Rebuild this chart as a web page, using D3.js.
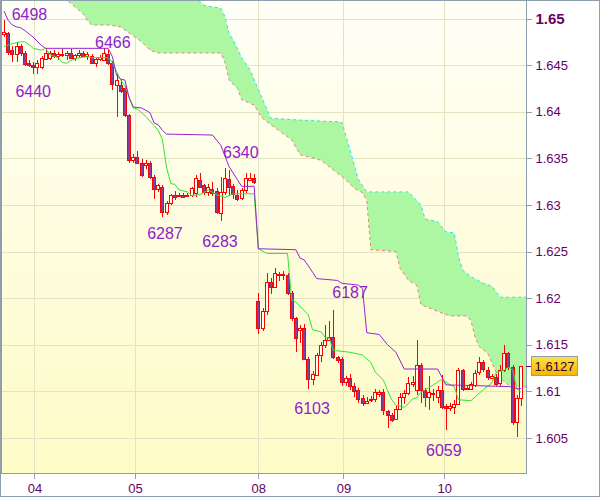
<!DOCTYPE html>
<html><head><meta charset="utf-8">
<script src="https://cdn.jsdelivr.net/npm/d3@7"></script>
<style>html,body{margin:0;padding:0;background:#fff;}svg{display:block;}</style>
</head><body>
<svg id="c" width="600" height="497"></svg>
<script>
// ---------- DATA ----------
const opens = [1.6483,1.6484,1.6466,1.6462,1.6471,1.6463,1.6452,1.6450,1.6448,1.6448,
1.6457,1.6458,1.6463,1.6460,1.6462,1.6461,1.6463,1.6458,1.6461,1.6463,
1.6460,1.6460,1.6453,1.6457,1.6456,1.6462,1.6452,1.6429,1.6429,1.6425,
1.6396,1.6348,1.6351,1.6345,1.6343,1.6345,1.6330,1.6317,1.6319,1.6292,
1.6302,1.6311,1.6310,1.6311,1.6310,1.6311,1.6313,1.6327,1.6321,1.6314,
1.6317,1.6315,1.6292,1.6314,1.6328,1.6320,1.6311,1.6307,1.6316,1.6327,
1.6329,1.6197,1.6168,1.6186,1.6217,1.6212,1.6226,1.6225,1.6225,1.6206,
1.6179,1.6166,1.6168,1.6135,1.6114,1.6118,1.6139,1.6150,1.6155,1.6158,
1.6137,1.6135,1.6110,1.6114,1.6106,1.6101,1.6093,1.6088,1.6092,1.6091,
1.6097,1.6099,1.6079,1.6075,1.6070,1.6081,1.6094,1.6098,1.6108,1.6101,
1.6128,1.6101,1.6094,1.6098,1.6093,1.6102,1.6084,1.6082,1.6084,1.6086,
1.6123,1.6103,1.6103,1.6107,1.6120,1.6131,1.6123,1.6115,1.6115,1.6109,
1.6123,1.6141,1.6126,1.6067,1.6093];
const highs = [1.6498,1.6486,1.6470,1.6474,1.6473,1.6465,1.6455,1.6453,1.6455,1.6460,
1.6468,1.6465,1.6466,1.6464,1.6467,1.6465,1.6467,1.6462,1.6466,1.6465,
1.6464,1.6462,1.6458,1.6461,1.6468,1.6466,1.6454,1.6441,1.6434,1.6428,
1.6398,1.6355,1.6358,1.6349,1.6348,1.6347,1.6332,1.6323,1.6321,1.6304,
1.6312,1.6315,1.6313,1.6313,1.6313,1.6319,1.6332,1.6334,1.6322,1.6322,
1.6325,1.6318,1.6330,1.6340,1.6337,1.6322,1.6316,1.6318,1.6334,1.6334,
1.6333,1.6206,1.6189,1.6227,1.6222,1.6232,1.6228,1.6229,1.6227,1.6208,
1.6180,1.6171,1.6172,1.6137,1.6122,1.6141,1.6153,1.6171,1.6176,1.6187,
1.6138,1.6137,1.6116,1.6119,1.6109,1.6104,1.6096,1.6094,1.6095,1.6103,
1.6101,1.6103,1.6080,1.6077,1.6085,1.6098,1.6101,1.6115,1.6117,1.6155,
1.6130,1.6104,1.6117,1.6103,1.6106,1.6118,1.6086,1.6088,1.6091,1.6125,
1.6124,1.6106,1.6110,1.6123,1.6137,1.6134,1.6126,1.6119,1.6119,1.6128,
1.6150,1.6142,1.6128,1.6096,1.6127];
const lows = [1.6480,1.6461,1.6453,1.6453,1.6460,1.6449,1.6448,1.6440,1.6441,1.6446,
1.6455,1.6455,1.6458,1.6456,1.6459,1.6455,1.6460,1.6454,1.6458,1.6459,
1.6456,1.6451,1.6448,1.6454,1.6454,1.6450,1.6423,1.6394,1.6420,1.6394,
1.6345,1.6345,1.6344,1.6330,1.6339,1.6328,1.6306,1.6314,1.6287,1.6289,
1.6300,1.6305,1.6308,1.6307,1.6308,1.6309,1.6308,1.6318,1.6311,1.6310,
1.6310,1.6290,1.6283,1.6311,1.6310,1.6306,1.6304,1.6305,1.6313,1.6326,
1.6322,1.6162,1.6165,1.6182,1.6205,1.6211,1.6218,1.6220,1.6203,1.6175,
1.6142,1.6152,1.6134,1.6103,1.6107,1.6116,1.6131,1.6147,1.6155,1.6135,
1.6130,1.6106,1.6106,1.6101,1.6094,1.6088,1.6084,1.6086,1.6089,1.6089,
1.6094,1.6075,1.6061,1.6067,1.6069,1.6080,1.6087,1.6096,1.6105,1.6096,
1.6088,1.6083,1.6080,1.6090,1.6088,1.6081,1.6059,1.6079,1.6076,1.6085,
1.6100,1.6101,1.6101,1.6105,1.6118,1.6121,1.6112,1.6113,1.6106,1.6106,
1.6121,1.6123,1.6064,1.6051,1.6084];
const closes = [1.6485,1.6464,1.6462,1.6471,1.6463,1.6451,1.6450,1.6448,1.6452,1.6458,
1.6463,1.6463,1.6460,1.6462,1.6461,1.6463,1.6458,1.6461,1.6463,1.6460,
1.6462,1.6453,1.6457,1.6459,1.6463,1.6452,1.6429,1.6434,1.6423,1.6396,
1.6348,1.6351,1.6345,1.6332,1.6345,1.6330,1.6317,1.6321,1.6292,1.6302,
1.6311,1.6309,1.6311,1.6309,1.6311,1.6318,1.6329,1.6320,1.6314,1.6319,
1.6313,1.6292,1.6314,1.6329,1.6319,1.6311,1.6307,1.6316,1.6329,1.6329,
1.6325,1.6168,1.6186,1.6217,1.6212,1.6227,1.6225,1.6226,1.6206,1.6179,
1.6158,1.6168,1.6135,1.6114,1.6119,1.6139,1.6150,1.6155,1.6158,1.6137,
1.6134,1.6110,1.6114,1.6105,1.6101,1.6091,1.6088,1.6090,1.6091,1.6099,
1.6099,1.6080,1.6075,1.6070,1.6081,1.6094,1.6098,1.6109,1.6110,1.6128,
1.6101,1.6094,1.6099,1.6097,1.6101,1.6084,1.6082,1.6084,1.6087,1.6123,
1.6103,1.6104,1.6108,1.6120,1.6131,1.6123,1.6115,1.6117,1.6108,1.6123,
1.6141,1.6126,1.6067,1.6093,1.6127];

// Tenkan (green) vertices: [bar, price]
const tenkan = [[0,1.6470],[2,1.6473],[4,1.6475],[5,1.6475],[6,1.6472],[7,1.6468],[9,1.6466],[10,1.6468],
[11,1.6461],[13,1.6458],[14,1.6453],[15,1.6452],[16,1.6455],[18,1.6458],[20,1.6459],[21,1.6458],[25,1.6458],
[26,1.6453],[27,1.6443],[28,1.6434],[29,1.6428],[31,1.6404],[32,1.6403],[34,1.6395],[36,1.6385],[37,1.6380],
[38,1.6370],[39,1.6340],[40,1.6323],[41,1.6322],[42,1.6316],[44,1.6314],[45,1.6310],[47,1.6311],[49,1.6316],
[51,1.6311],[53,1.6308],[55,1.6312],[60,1.6312],[61,1.6253],[63,1.6248],[68,1.6248],[69,1.6198],[70,1.6196],
[73,1.6182],[74,1.6166],[76,1.6164],[77,1.6158],[78,1.6157],[79,1.6144],[83,1.6142],[86,1.6139],[88,1.6131],
[89,1.6121],[91,1.6112],[92,1.6101],[93,1.6091],[94,1.6085],[96,1.6083],[97,1.6087],[98,1.6092],[99,1.6093],
[100,1.6099],[103,1.6107],[104,1.6110],[105,1.6113],[106,1.6110],[107,1.6107],[108,1.6105],[109,1.6091],
[112,1.6090],[113,1.6094],[115,1.6102],[117,1.6109],[118,1.6120],[120,1.6123],[121,1.6126],[122,1.6123],
[123,1.6103],[124,1.6099]];
// Kijun (purple) vertices
const kijun = [[0,1.6508],[1,1.6498],[2,1.6493],[3,1.6491],[4,1.6490],[5,1.6487],[7,1.6480],[9,1.6471],[10,1.6468],
[25,1.6468],[26,1.6459],[27,1.6439],[28,1.6435],[29,1.6434],[30,1.6415],[31,1.6405],[33,1.6404],[35,1.6399],
[36,1.6388],[37,1.6386],[38,1.6380],[39,1.6376],[50,1.6375],[52,1.6364],[54,1.6341],[56,1.6327],[57,1.6320],
[60,1.6320],[61,1.6253],[70,1.6252],[71,1.6243],[72,1.6241],[74,1.6228],[75,1.6221],[80,1.6219],[81,1.6216],
[85,1.6214],[86,1.6210],[87,1.6163],[90,1.6161],[92,1.6150],[94,1.6142],[96,1.6124],[104,1.6124],[106,1.6107],
[122,1.6105],[123,1.6103],[124,1.6103]];
// Cloud spans (shifted forward)
const spanA = [[-1,1.6560],[30,1.6545],[46,1.6522],[48,1.6514],[52,1.6511],[53,1.6502],[54,1.6484],[55,1.6477],
[57,1.6458],[59,1.6445],[61,1.6424],[64,1.6393],[71,1.6391],[81,1.6389],[83,1.6359],[85,1.6327],[87,1.6314],
[97,1.6314],[100,1.6300],[101,1.6285],[104,1.6282],[106,1.6271],[108,1.6270],[109,1.6245],[110,1.6230],
[112,1.6223],[115,1.6216],[117,1.6213],[119,1.6201],[126,1.6201]];
const spanB = [[-1,1.6570],[12,1.6531],[15,1.6520],[19,1.6505],[20,1.6498],[21,1.6493],[25,1.6493],[28,1.6491],
[33,1.6475],[35,1.6466],[37,1.6463],[52,1.6463],[53,1.6453],[54,1.6434],[56,1.6425],[57,1.6413],[60,1.6407],
[62,1.6393],[64,1.6386],[69,1.6370],[71,1.6354],[76,1.6348],[82,1.6327],[84,1.6318],[86,1.6313],[87,1.6305],
[88,1.6252],[94,1.6250],[95,1.6232],[97,1.6219],[99,1.6214],[100,1.6193],[105,1.6184],[107,1.6181],[111,1.6181],
[112,1.6176],[113,1.6158],[114,1.6148],[116,1.6141],[117,1.6131],[118,1.6121],[119,1.6115],[120,1.6110],
[121,1.6107],[126,1.6104]];

const dayLabels = ["04","05","08","09","10"];
const dayBars = [7.3, 31.4, 61, 81.4, 105.6];
const yTicks = [1.605,1.61,1.615,1.62,1.625,1.63,1.635,1.64,1.645,1.65];
const lastPrice = 1.6127;

const markTexts  = ["6498","6466","6440","6340","6287","6283","6187","6103","6059"];
const markPrices = [1.6498,1.6466,1.6440,1.6340,1.6287,1.6283,1.6187,1.6103,1.6059];
const markKinds  = ["high","high","low","high","low","low","high","low","low"];

// ---------- LAYOUT ----------
const markBars = [6.1, 26.1, 7, 56.8, 38.6, 51.8, 83, 73.9, 105.5];
const markDy   = [0, -2, 23, -10, 22, 26, -12, 25, 26];

const W = 600, H = 497;
const PL = 1, PR = 526, PT = 1, PB = 473;
const x = d3.scaleLinear().domain([0,124]).range([4,521]);
const y = d3.scaleLinear().domain([1.605,1.65]).range([438,18.5]);

const svg = d3.select("#c");
const defs = svg.append("defs");
const bg = defs.append("linearGradient").attr("id","bg").attr("x1",0).attr("y1",0).attr("x2",0).attr("y2",1);
bg.append("stop").attr("offset","0%").attr("stop-color","#fffff7");
bg.append("stop").attr("offset","100%").attr("stop-color","#fdfbc6");
const tag = defs.append("linearGradient").attr("id","tag").attr("x1",0).attr("y1",0).attr("x2",0).attr("y2",1);
tag.append("stop").attr("offset","0%").attr("stop-color","#ffe34a");
tag.append("stop").attr("offset","100%").attr("stop-color","#f2b600");
const dn = defs.append("linearGradient").attr("id","dn").attr("x1",0).attr("y1",0).attr("x2",1).attr("y2",0);
dn.append("stop").attr("offset","0%").attr("stop-color","#6a2a8e");
dn.append("stop").attr("offset","50%").attr("stop-color","#8a4cb0");
dn.append("stop").attr("offset","100%").attr("stop-color","#6a2a8e");
defs.append("clipPath").attr("id","clip").append("rect")
  .attr("x",PL).attr("y",PT).attr("width",PR-PL).attr("height",PB-PT);

svg.append("rect").attr("x",0).attr("y",0).attr("width",W).attr("height",H).attr("fill","#fff");
svg.append("rect").attr("x",PL).attr("y",PT).attr("width",PR-PL).attr("height",PB-PT).attr("fill","url(#bg)");

const gridC = "#e6e3c3";
const grid = svg.append("g").attr("shape-rendering","crispEdges");
grid.selectAll("line.h").data(yTicks).join("line")
  .attr("x1",PL).attr("x2",PR).attr("y1",d=>Math.round(y(d))+0.5).attr("y2",d=>Math.round(y(d))+0.5)
  .attr("stroke",gridC);
grid.selectAll("line.v").data(dayBars).join("line")
  .attr("y1",PT).attr("y2",PB).attr("x1",d=>Math.round(x(d))+0.5).attr("x2",d=>Math.round(x(d))+0.5)
  .attr("stroke",gridC);

const plot = svg.append("g").attr("clip-path","url(#clip)");
const line = d3.line().x(d=>x(d[0])).y(d=>y(d[1]));

// cloud fill
plot.append("path")
  .attr("d", line(spanA.concat(spanB.slice().reverse())) + "Z")
  .attr("fill","#adf7a3");
plot.append("path").attr("d",line(spanB)).attr("fill","none")
  .attr("stroke","#f27a7a").attr("stroke-width",1).attr("stroke-dasharray","3,3");
plot.append("path").attr("d",line(spanA)).attr("fill","none")
  .attr("stroke","#22e2f2").attr("stroke-width",1).attr("stroke-dasharray","3,3");

// candles
const idx = d3.range(opens.length);
const cg = plot.append("g").attr("shape-rendering","crispEdges");
cg.selectAll("line").data(idx).join("line")
  .attr("x1",i=>Math.round(x(i))+0.5).attr("x2",i=>Math.round(x(i))+0.5)
  .attr("y1",i=>y(highs[i])).attr("y2",i=>y(lows[i]))
  .attr("stroke","#ff0000");
cg.selectAll("rect").data(idx).join("rect")
  .attr("x",i=>Math.round(x(i))-1.5)
  .attr("width",3)
  .attr("y",i=>Math.round(y(Math.max(opens[i],closes[i])))+0.5)
  .attr("height",i=>Math.max(1,Math.round(Math.abs(y(opens[i])-y(closes[i])))))
  .attr("fill",i=>closes[i]<opens[i]?"url(#dn)":"#fffff0")
  .attr("stroke","#ff0000");

// indicator lines
plot.append("path").attr("d",line(tenkan)).attr("fill","none").attr("stroke","#2ee62e").attr("stroke-width",1);
plot.append("path").attr("d",line(kijun)).attr("fill","none").attr("stroke","#9a22d4").attr("stroke-width",1);

// swing labels
svg.append("g").selectAll("text").data(markTexts).join("text")
  .attr("x",(d,i)=>x(markBars[i]))
  .attr("y",(d,i)=>y(markPrices[i])+markDy[i])
  .attr("text-anchor","middle")
  .attr("font-family","Liberation Sans, Arial, sans-serif")
  .attr("font-size",16)
  .attr("fill","#8e22cc")
  .text(d=>d);

// frame + axes
const axC = "#8e9eae";
const fr = svg.append("g").attr("shape-rendering","crispEdges");
fr.append("rect").attr("x",0.5).attr("y",0.5).attr("width",W-1).attr("height",H-1).attr("fill","none").attr("stroke",axC);
fr.append("line").attr("x1",PR+0.5).attr("x2",PR+0.5).attr("y1",0).attr("y2",PB+1).attr("stroke",axC);
fr.append("line").attr("x1",0).attr("x2",PR+1).attr("y1",PB+0.5).attr("y2",PB+0.5).attr("stroke",axC);
fr.append("line").attr("x1",1.5).attr("x2",1.5).attr("y1",0).attr("y2",PB).attr("stroke",axC);

const yAxis = d3.axisRight(y).tickValues(yTicks).tickSize(5).tickPadding(4)
  .tickFormat(d=>String(+d.toFixed(3)));
const ya = svg.append("g").attr("transform",`translate(${PR+0.5},0)`).call(yAxis);
ya.select(".domain").remove();
ya.selectAll(".tick line").attr("stroke",axC).attr("shape-rendering","crispEdges");
ya.selectAll(".tick text").attr("fill","#660066")
  .attr("font-family","Liberation Sans, Arial, sans-serif")
  .attr("font-weight",d=>d===1.65?"bold":"normal")
  .attr("font-size",d=>d===1.65?15:13);

const xAxis = d3.axisBottom(x).tickValues(dayBars).tickSize(5).tickPadding(5)
  .tickFormat((d,i)=>dayLabels[i]);
const xa = svg.append("g").attr("transform",`translate(0,${PB+0.5})`).call(xAxis);
xa.select(".domain").remove();
xa.selectAll(".tick line").attr("stroke",axC).attr("shape-rendering","crispEdges");
xa.selectAll(".tick text").attr("fill","#660066")
  .attr("font-family","Liberation Sans, Arial, sans-serif").attr("font-size",13);

// last price tag
const ly = y(lastPrice);
svg.append("line").attr("x1",PR).attr("x2",PR+6).attr("y1",Math.round(ly)+0.5).attr("y2",Math.round(ly)+0.5)
  .attr("stroke","#660066").attr("shape-rendering","crispEdges");
svg.append("rect").attr("x",531.5).attr("y",Math.round(ly)-9.5).attr("width",46).attr("height",19)
  .attr("fill","url(#tag)").attr("stroke",axC).attr("shape-rendering","crispEdges");
svg.append("text").attr("x",554.5).attr("y",Math.round(ly)+5).attr("text-anchor","middle")
  .attr("font-family","Liberation Sans, Arial, sans-serif").attr("font-size",13).attr("fill","#330033")
  .text(String(lastPrice));
</script>
</body></html>
